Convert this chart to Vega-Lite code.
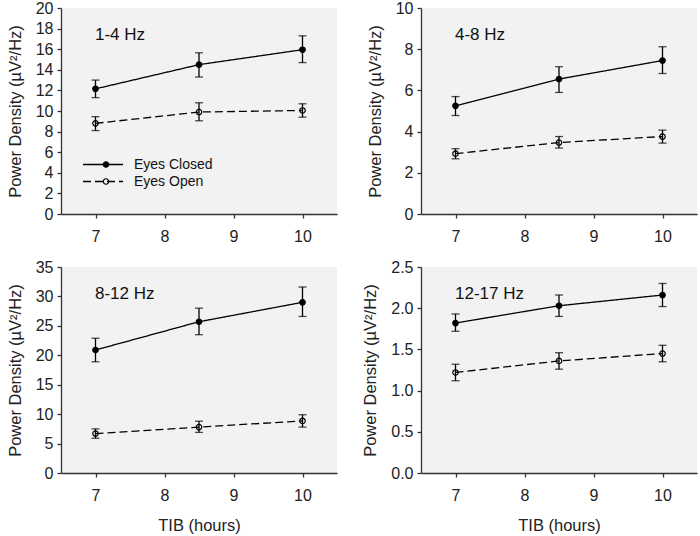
{
  "$schema": "https://vega.github.io/schema/vega-lite/v6.json",
  "padding": {"left": 7, "top": 0, "right": 3, "bottom": 3},
  "datasets": {
    "pd": [
      {"band": "1-4 Hz", "cond": "Eyes Closed", "tib": 7, "mean": 12.15, "lo": 11.3, "hi": 13.0},
      {"band": "1-4 Hz", "cond": "Eyes Closed", "tib": 8.5, "mean": 14.5, "lo": 13.3, "hi": 15.65},
      {"band": "1-4 Hz", "cond": "Eyes Closed", "tib": 10, "mean": 15.95, "lo": 14.7, "hi": 17.3},
      {"band": "1-4 Hz", "cond": "Eyes Open", "tib": 7, "mean": 8.8, "lo": 8.1, "hi": 9.45},
      {"band": "1-4 Hz", "cond": "Eyes Open", "tib": 8.5, "mean": 9.9, "lo": 9.05, "hi": 10.8},
      {"band": "1-4 Hz", "cond": "Eyes Open", "tib": 10, "mean": 10.05, "lo": 9.4, "hi": 10.7},
      {"band": "4-8 Hz", "cond": "Eyes Closed", "tib": 7, "mean": 5.25, "lo": 4.78, "hi": 5.7},
      {"band": "4-8 Hz", "cond": "Eyes Closed", "tib": 8.5, "mean": 6.55, "lo": 5.9, "hi": 7.15},
      {"band": "4-8 Hz", "cond": "Eyes Closed", "tib": 10, "mean": 7.45, "lo": 6.82, "hi": 8.12},
      {"band": "4-8 Hz", "cond": "Eyes Open", "tib": 7, "mean": 2.93, "lo": 2.68, "hi": 3.17},
      {"band": "4-8 Hz", "cond": "Eyes Open", "tib": 8.5, "mean": 3.47, "lo": 3.2, "hi": 3.76},
      {"band": "4-8 Hz", "cond": "Eyes Open", "tib": 10, "mean": 3.76, "lo": 3.44, "hi": 4.07},
      {"band": "8-12 Hz", "cond": "Eyes Closed", "tib": 7, "mean": 20.9, "lo": 18.9, "hi": 22.9},
      {"band": "8-12 Hz", "cond": "Eyes Closed", "tib": 8.5, "mean": 25.7, "lo": 23.5, "hi": 28.0},
      {"band": "8-12 Hz", "cond": "Eyes Closed", "tib": 10, "mean": 29.0, "lo": 26.6, "hi": 31.6},
      {"band": "8-12 Hz", "cond": "Eyes Open", "tib": 7, "mean": 6.7, "lo": 5.9, "hi": 7.5},
      {"band": "8-12 Hz", "cond": "Eyes Open", "tib": 8.5, "mean": 7.8, "lo": 6.9, "hi": 8.8},
      {"band": "8-12 Hz", "cond": "Eyes Open", "tib": 10, "mean": 8.85, "lo": 7.8, "hi": 9.9},
      {"band": "12-17 Hz", "cond": "Eyes Closed", "tib": 7, "mean": 1.82, "lo": 1.72, "hi": 1.93},
      {"band": "12-17 Hz", "cond": "Eyes Closed", "tib": 8.5, "mean": 2.03, "lo": 1.9, "hi": 2.16},
      {"band": "12-17 Hz", "cond": "Eyes Closed", "tib": 10, "mean": 2.16, "lo": 2.02, "hi": 2.3},
      {"band": "12-17 Hz", "cond": "Eyes Open", "tib": 7, "mean": 1.22, "lo": 1.12, "hi": 1.32},
      {"band": "12-17 Hz", "cond": "Eyes Open", "tib": 8.5, "mean": 1.36, "lo": 1.26, "hi": 1.46},
      {"band": "12-17 Hz", "cond": "Eyes Open", "tib": 10, "mean": 1.45, "lo": 1.35, "hi": 1.55}
    ]
  },
  "columns": 2,
  "spacing": {"row": 53, "column": 84},
  "bounds": "flush",
  "concat": [
    {
      "width": 276, "height": 206,
      "title": {"text": "1-4 Hz"},
      "data": {"name": "pd"},
      "transform": [{"filter": "datum.band === '1-4 Hz'"}],
      "encoding": {"x": {"field": "tib", "type": "quantitative", "scale": {"domain": [6.5, 10.5], "nice": false, "zero": false}, "axis": {"values": [7, 8, 9, 10], "title": null}}},
      "layer": [
        {"mark": {"type": "errorbar", "color": "black", "thickness": 1.3, "ticks": {"size": 8, "thickness": 1.3}},
         "encoding": {"y": {"field": "lo", "type": "quantitative", "scale": {"domain": [0, 20], "nice": false}, "axis": {"values": [0, 2, 4, 6, 8, 10, 12, 14, 16, 18, 20], "title": "Power Density (µV²/Hz)"}}, "y2": {"field": "hi"}}},
        {"mark": {"type": "line", "color": "black", "strokeWidth": 1.3},
         "encoding": {"y": {"field": "mean", "type": "quantitative", "scale": {"domain": [0, 20], "nice": false}, "axis": {"values": [0, 2, 4, 6, 8, 10, 12, 14, 16, 18, 20], "title": "Power Density (µV²/Hz)"}},
                      "strokeDash": {"field": "cond", "type": "nominal", "scale": {"domain": ["Eyes Closed", "Eyes Open"], "range": [[1, 0], [8, 4]]},
                                     "legend": {"title": null, "orient": "none", "legendX": 21, "legendY": 148, "symbolType": "stroke", "symbolSize": 1600, "symbolStrokeWidth": 1.3, "symbolStrokeColor": "black", "clipHeight": 17, "rowPadding": 0, "padding": 0, "labelFontSize": 14, "labelOffset": 10, "labelColor": "#111"}}}},
        {"mark": {"type": "point", "shape": "circle", "filled": true, "size": 30, "stroke": "black", "strokeWidth": 1.2, "opacity": 1},
         "encoding": {"y": {"field": "mean", "type": "quantitative", "scale": {"domain": [0, 20], "nice": false}, "axis": {"values": [0, 2, 4, 6, 8, 10, 12, 14, 16, 18, 20], "title": "Power Density (µV²/Hz)"}},
                      "fill": {"field": "cond", "type": "nominal", "scale": {"range": ["black", "transparent"]},
                               "legend": {"title": null, "orient": "none", "legendX": 38, "legendY": 148, "symbolType": "circle", "symbolSize": 30, "symbolStrokeWidth": 1.2, "symbolStrokeColor": "black", "clipHeight": 17, "rowPadding": 0, "padding": 0, "labelFontSize": 14, "labelExpr": "''"}}}}
      ]
    },
    {
      "width": 276, "height": 206,
      "title": {"text": "4-8 Hz"},
      "data": {"name": "pd"},
      "transform": [{"filter": "datum.band === '4-8 Hz'"}],
      "encoding": {"x": {"field": "tib", "type": "quantitative", "scale": {"domain": [6.5, 10.5], "nice": false, "zero": false}, "axis": {"values": [7, 8, 9, 10], "title": null}}},
      "layer": [
        {"mark": {"type": "errorbar", "color": "black", "thickness": 1.3, "ticks": {"size": 8, "thickness": 1.3}},
         "encoding": {"y": {"field": "lo", "type": "quantitative", "scale": {"domain": [0, 10], "nice": false}, "axis": {"values": [0, 2, 4, 6, 8, 10], "title": "Power Density (µV²/Hz)"}}, "y2": {"field": "hi"}}},
        {"mark": {"type": "line", "color": "black", "strokeWidth": 1.3},
         "encoding": {"y": {"field": "mean", "type": "quantitative", "scale": {"domain": [0, 10], "nice": false}, "axis": {"values": [0, 2, 4, 6, 8, 10], "title": "Power Density (µV²/Hz)"}},
                      "strokeDash": {"field": "cond", "type": "nominal", "scale": {"domain": ["Eyes Closed", "Eyes Open"], "range": [[1, 0], [8, 4]]}}}},
        {"mark": {"type": "point", "shape": "circle", "filled": true, "size": 30, "stroke": "black", "strokeWidth": 1.2, "opacity": 1},
         "encoding": {"y": {"field": "mean", "type": "quantitative", "scale": {"domain": [0, 10], "nice": false}, "axis": {"values": [0, 2, 4, 6, 8, 10], "title": "Power Density (µV²/Hz)"}},
                      "fill": {"field": "cond", "type": "nominal", "scale": {"range": ["black", "transparent"]}}}}
      ]
    },
    {
      "width": 276, "height": 206,
      "title": {"text": "8-12 Hz"},
      "data": {"name": "pd"},
      "transform": [{"filter": "datum.band === '8-12 Hz'"}],
      "encoding": {"x": {"field": "tib", "type": "quantitative", "scale": {"domain": [6.5, 10.5], "nice": false, "zero": false}, "axis": {"values": [7, 8, 9, 10], "title": "TIB (hours)"}}},
      "layer": [
        {"mark": {"type": "errorbar", "color": "black", "thickness": 1.3, "ticks": {"size": 8, "thickness": 1.3}},
         "encoding": {"y": {"field": "lo", "type": "quantitative", "scale": {"domain": [0, 35], "nice": false}, "axis": {"values": [0, 5, 10, 15, 20, 25, 30, 35], "title": "Power Density (µV²/Hz)"}}, "y2": {"field": "hi"}}},
        {"mark": {"type": "line", "color": "black", "strokeWidth": 1.3},
         "encoding": {"y": {"field": "mean", "type": "quantitative", "scale": {"domain": [0, 35], "nice": false}, "axis": {"values": [0, 5, 10, 15, 20, 25, 30, 35], "title": "Power Density (µV²/Hz)"}},
                      "strokeDash": {"field": "cond", "type": "nominal", "scale": {"domain": ["Eyes Closed", "Eyes Open"], "range": [[1, 0], [8, 4]]}}}},
        {"mark": {"type": "point", "shape": "circle", "filled": true, "size": 30, "stroke": "black", "strokeWidth": 1.2, "opacity": 1},
         "encoding": {"y": {"field": "mean", "type": "quantitative", "scale": {"domain": [0, 35], "nice": false}, "axis": {"values": [0, 5, 10, 15, 20, 25, 30, 35], "title": "Power Density (µV²/Hz)"}},
                      "fill": {"field": "cond", "type": "nominal", "scale": {"range": ["black", "transparent"]}}}}
      ]
    },
    {
      "width": 276, "height": 206,
      "title": {"text": "12-17 Hz"},
      "data": {"name": "pd"},
      "transform": [{"filter": "datum.band === '12-17 Hz'"}],
      "encoding": {"x": {"field": "tib", "type": "quantitative", "scale": {"domain": [6.5, 10.5], "nice": false, "zero": false}, "axis": {"values": [7, 8, 9, 10], "title": "TIB (hours)"}}},
      "layer": [
        {"mark": {"type": "errorbar", "color": "black", "thickness": 1.3, "ticks": {"size": 8, "thickness": 1.3}},
         "encoding": {"y": {"field": "lo", "type": "quantitative", "scale": {"domain": [0, 2.5], "nice": false}, "axis": {"values": [0, 0.5, 1, 1.5, 2, 2.5], "format": ".1f", "title": "Power Density (µV²/Hz)"}}, "y2": {"field": "hi"}}},
        {"mark": {"type": "line", "color": "black", "strokeWidth": 1.3},
         "encoding": {"y": {"field": "mean", "type": "quantitative", "scale": {"domain": [0, 2.5], "nice": false}, "axis": {"values": [0, 0.5, 1, 1.5, 2, 2.5], "format": ".1f", "title": "Power Density (µV²/Hz)"}},
                      "strokeDash": {"field": "cond", "type": "nominal", "scale": {"domain": ["Eyes Closed", "Eyes Open"], "range": [[1, 0], [8, 4]]}}}},
        {"mark": {"type": "point", "shape": "circle", "filled": true, "size": 30, "stroke": "black", "strokeWidth": 1.2, "opacity": 1},
         "encoding": {"y": {"field": "mean", "type": "quantitative", "scale": {"domain": [0, 2.5], "nice": false}, "axis": {"values": [0, 0.5, 1, 1.5, 2, 2.5], "format": ".1f", "title": "Power Density (µV²/Hz)"}},
                      "fill": {"field": "cond", "type": "nominal", "scale": {"range": ["black", "transparent"]}}}}
      ]
    }
  ],
  "config": {
    "font": "Liberation Sans",
    "background": "white",
    "view": {"fill": "#f2f2f2", "stroke": null},
    "axis": {"grid": false, "labelOverlap": false, "domainColor": "#333", "domainWidth": 1.3, "tickColor": "#333", "tickWidth": 1.3, "tickSize": 4, "labelFontSize": 16, "labelColor": "#222", "titleFontSize": 16.5, "titleFontWeight": "normal", "titleColor": "#222"},
    "axisY": {"labelPadding": 4, "titlePadding": 12},
    "axisX": {"labelPadding": 10, "titlePadding": 14},
    "title": {"anchor": "start", "frame": "group", "orient": "top", "offset": -44, "baseline": "alphabetic", "dx": 34, "fontSize": 17, "fontWeight": "normal", "color": "#111"}
  }
}
